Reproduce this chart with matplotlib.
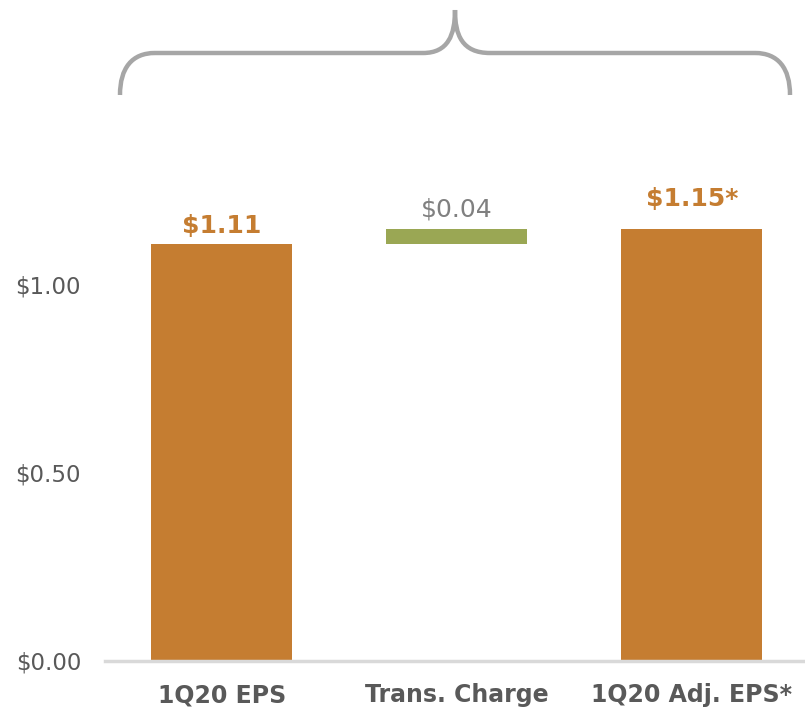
import matplotlib.pyplot as plt
from matplotlib.path import Path
from matplotlib.patches import PathPatch

# Data
categories = ["1Q20 EPS", "Trans. Charge", "1Q20 Adj. EPS*"]
values = [1.11, 0.04, 1.15]
bottoms = [0, 1.11, 0]
value_labels = ["$1.11", "$0.04", "$1.15*"]
yticks = [0.0, 0.5, 1.0]
ytick_labels = ["$0.00", "$0.50", "$1.00"]

orange = "#C57D31"
green = "#9AA754"
grey = "#595959"

fig = plt.figure(figsize=(8.05, 7.08), dpi=100)
ax = fig.add_axes([0.13, 0.0664, 0.87, 1.5 * 376 / 708])

colors = [orange, green, orange]
x = list(range(len(categories)))
ax.bar(x, values, bottom=bottoms, width=0.6, color=colors)

# value labels
label_colors = [orange, "#808080", orange]
label_weights = ["bold", "normal", "bold"]
label_offsets = [8, 9, 16]
for i in x:
    ax.annotate(value_labels[i], (x[i], bottoms[i] + values[i]),
                xytext=(0, label_offsets[i]), textcoords="offset points",
                ha="center", va="baseline", fontsize=18,
                color=label_colors[i], fontweight=label_weights[i])

ax.set_xlim(-0.498, 2.481)
ax.set_ylim(0, 1.5)
ax.set_xticks(x)
ax.set_xticklabels(categories, fontsize=17, fontweight="bold", color=grey)
ax.set_yticks(yticks)
ax.set_yticklabels(ytick_labels, fontsize=16.5, color=grey)
ax.tick_params(axis="both", length=0)
ax.tick_params(axis="x", pad=16)
ax.tick_params(axis="y", pad=17)

for s in ["top", "right", "left"]:
    ax.spines[s].set_visible(False)
ax.spines["bottom"].set_color("#D9D9D9")
ax.spines["bottom"].set_linewidth(2.5)

# brace on top, drawn in pixel coordinates of an overlay axes
ov = fig.add_axes([0, 0, 1, 1], facecolor="none")
ov.set_xlim(0, 805)
ov.set_ylim(708, 0)
ov.axis("off")
verts = [
    (120, 95), (120, 68), (132, 53), (155, 53),
    (423, 53),
    (448, 53), (455, 35), (455, 10),
    (455, 35), (462, 53), (490, 53),
    (755, 53),
    (778, 53), (790, 68), (790, 95),
]
codes = [Path.MOVETO, Path.CURVE4, Path.CURVE4, Path.CURVE4,
         Path.LINETO,
         Path.CURVE4, Path.CURVE4, Path.CURVE4,
         Path.CURVE4, Path.CURVE4, Path.CURVE4,
         Path.LINETO,
         Path.CURVE4, Path.CURVE4, Path.CURVE4]
ov.add_patch(PathPatch(Path(verts, codes), facecolor="none",
                       edgecolor="#A6A6A6", linewidth=3.2, capstyle="butt"))

fig.savefig("out.png", dpi=100)
